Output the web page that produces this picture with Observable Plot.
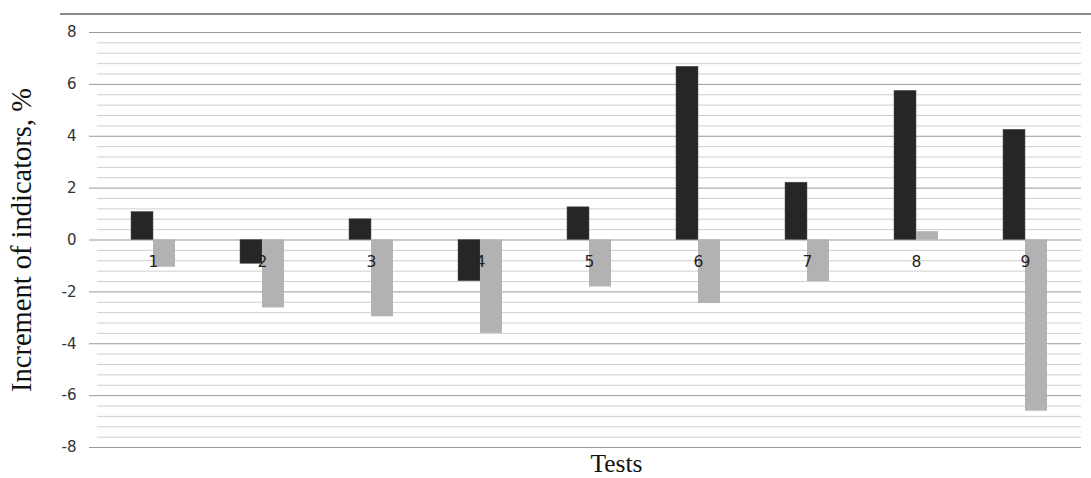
<!DOCTYPE html>
<html>
<head>
<meta charset="utf-8">
<script src="https://cdn.jsdelivr.net/npm/d3@7"></script>
<script src="https://cdn.jsdelivr.net/npm/@observablehq/plot@0.6"></script>
<style>
  html, body { margin: 0; padding: 0; background: #fff; }
  #wrap { position: relative; width: 1091px; height: 478px; }
  #topline { position: absolute; left: 60px; right: 0; top: 13px; height: 0; border-top: 2px solid #8a8a8a; }
</style>
</head>
<body>
<div id="wrap"><div id="topline"></div></div>
<script>
const tests = ["1", "2", "3", "4", "5", "6", "7", "8", "9"];
const seriesA = [1.08, -0.92, 0.80, -1.59, 1.26, 6.68, 2.21, 5.75, 4.25];
const seriesB = [-1.05, -2.62, -2.96, -3.60, -1.81, -2.45, -1.60, 0.32, -6.60];
const majorTicks = [-8, -6, -4, -2, 0, 2, 4, 6, 8];
const minorTicks = d3.range(-8, 8.001, 0.4).map(v => Math.round(v * 10) / 10).filter(v => Math.abs(v % 2) > 1e-6);
const yTitle = "Increment of indicators, %";
const xTitle = "Tests";

const dataA = tests.map((t, i) => ({test: t, value: seriesA[i]}));
const dataB = tests.map((t, i) => ({test: t, value: seriesB[i]}));

const chart = Plot.plot({
  width: 1091,
  height: 478,
  marginLeft: 97,
  marginRight: 10,
  marginTop: 32,
  marginBottom: 31,
  style: {background: "transparent"},
  x: {domain: tests, paddingInner: 0.8, paddingOuter: 0.4, axis: null},
  y: {domain: [-8, 8], axis: null},
  marks: [
    Plot.ruleY(minorTicks, {stroke: "#cfcfcf", strokeWidth: 1}),
    Plot.ruleY(majorTicks, {stroke: "#9a9a9a", strokeWidth: 1}),
    Plot.barY(dataA, {x: "test", y: "value", fill: "#262626", stroke: "#555", strokeWidth: 0.5, dx: -11}),
    Plot.barY(dataB, {x: "test", y: "value", fill: "#b2b2b2", dx: 11}),
    Plot.text(tests, {x: d => d, y: 0, text: d => d, dy: 22, fontSize: 15.5, fontFamily: "DejaVu Sans", fill: "#222", lineAnchor: "middle"}),
    Plot.axisY(majorTicks, {tickSize: 8, tickPadding: 13, stroke: "#9a9a9a", fill: "#333", fontSize: 15, fontFamily: "DejaVu Sans", tickFormat: d => String(d), label: null, line: true}),
    Plot.text([yTitle], {frameAnchor: "left", dx: -76, rotate: -90, fontSize: 28.5, fontFamily: "Liberation Serif", fill: "#111", textAnchor: "middle", lineAnchor: "middle"}),
    Plot.text([xTitle], {frameAnchor: "bottom", dx: 27, dy: 16, fontSize: 25.5, fontFamily: "Liberation Serif", fill: "#111", lineAnchor: "middle"})
  ]
});
document.getElementById("wrap").appendChild(chart);
</script>
</body>
</html>
